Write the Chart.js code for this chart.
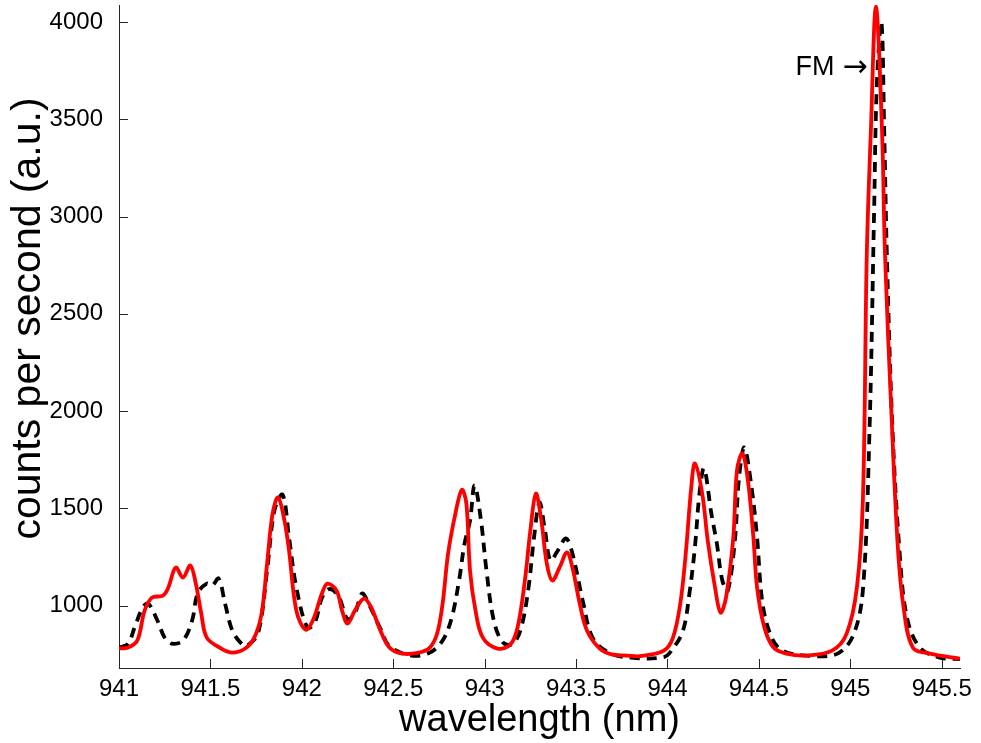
<!DOCTYPE html>
<html>
<head>
<meta charset="utf-8">
<title>Spectrum</title>
<script src="https://cdn.jsdelivr.net/npm/chart.js@4/dist/chart.umd.min.js"></script>
<style>
  html, body { margin: 0; padding: 0; background: #fff; }
  #wrap { width: 981px; height: 743px; position: relative; }
</style>
</head>
<body>
<div id="wrap"><canvas id="spectrumChart"></canvas></div>
<script>
// measured spectrum (red, solid)
const measWl = [941.00, 941.05, 941.10, 941.14, 941.18, 941.24, 941.27, 941.31, 941.35, 941.39,
  941.42, 941.45, 941.48, 941.56, 941.62, 941.69, 941.74, 941.78, 941.81, 941.84,
  941.87, 941.905, 941.93, 941.97, 942.02, 942.06, 942.11, 942.14, 942.19, 942.22,
  942.25, 942.29, 942.34, 942.38, 942.43, 942.48, 942.55, 942.64, 942.70, 942.74,
  942.77, 942.80, 942.84, 942.875, 942.90, 942.92, 942.95, 942.99, 943.07, 943.14,
  943.18, 943.22, 943.25, 943.28, 943.31, 943.34, 943.37, 943.41, 943.45, 943.48,
  943.52, 943.56, 943.63, 943.70, 943.78, 943.85, 943.98, 944.03, 944.07, 944.10,
  944.13, 944.15, 944.19, 944.22, 944.26, 944.29, 944.32, 944.36, 944.38, 944.41,
  944.44, 944.47, 944.49, 944.53, 944.58, 944.65, 944.76, 944.90, 944.98, 945.036,
  945.069, 945.09, 945.113, 945.14, 945.173, 945.19, 945.228, 945.26, 945.29, 945.342,
  945.435, 945.60];
const measCounts = [780, 784, 820, 974, 1041, 1051, 1093, 1196, 1144, 1206,
  1113, 959, 835, 779, 758, 779, 835, 959, 1216, 1473,
  1556, 1437, 1283, 974, 876, 923, 1062, 1113, 1077, 974,
  907, 974, 1036, 990, 871, 784, 753, 758, 784, 856,
  1010, 1268, 1473, 1595, 1525, 1180, 974, 835, 779, 799,
  887, 1129, 1386, 1576, 1437, 1216, 1129, 1196, 1273, 1196,
  1010, 871, 779, 748, 743, 740, 768, 835, 1010, 1268,
  1607, 1731, 1576, 1335, 1093, 964, 1041, 1350, 1695, 1782,
  1643, 1350, 1093, 887, 784, 753, 743, 768, 856, 1093,
  1550, 2800, 3457, 4080, 3457, 2800, 1921, 1300, 1000, 784,
  753, 727];

// calculated spectrum (black, dashed)
const calcWl = [941.00, 941.05, 941.085, 941.13, 941.16, 941.21, 941.25, 941.29, 941.35, 941.40,
  941.43, 941.48, 941.51, 941.545, 941.58, 941.62, 941.67, 941.70, 941.76, 941.81,
  941.85, 941.895, 941.93, 941.97, 942.03, 942.07, 942.11, 942.15, 942.20, 942.25,
  942.29, 942.33, 942.37, 942.43, 942.48, 942.60, 942.70, 942.77, 942.82, 942.86,
  942.89, 942.92, 942.945, 942.98, 943.01, 943.05, 943.10, 943.155, 943.20, 943.24,
  943.27, 943.30, 943.33, 943.36, 943.40, 943.445, 943.48, 943.54, 943.59, 943.68,
  943.80, 943.98, 944.03, 944.085, 944.12, 944.15, 944.175, 944.20, 944.24, 944.27,
  944.30, 944.33, 944.37, 944.39, 944.42, 944.46, 944.49, 944.52, 944.57, 944.63,
  944.76, 944.93, 945.02, 945.07, 945.105, 945.13, 945.145, 945.17, 945.185, 945.20,
  945.23, 945.27, 945.31, 945.38, 945.49, 945.60];
const calcCounts = [784, 804, 887, 990, 1010, 923, 835, 804, 820, 923,
  1062, 1113, 1103, 1139, 1010, 871, 804, 794, 856, 1180,
  1489, 1570, 1350, 1093, 887, 910, 1040, 1085, 1050, 930,
  960, 1062, 1000, 880, 790, 743, 758, 820, 938, 1129,
  1319, 1437, 1618, 1437, 1180, 923, 810, 804, 887, 1093,
  1350, 1530, 1386, 1232, 1283, 1345, 1268, 1010, 835, 758,
  732, 735, 779, 871, 1062, 1299, 1576, 1705, 1473, 1319,
  1129, 1077, 1350, 1643, 1813, 1607, 1350, 1010, 835, 768,
  743, 753, 856, 1093, 1900, 3018, 3676, 4000, 3457, 2800,
  1921, 1268, 938, 784, 732, 725];

const xTicks = [941, 941.5, 942, 942.5, 943, 943.5, 944, 944.5, 945, 945.5];
const yTicks = [1000, 1500, 2000, 2500, 3000, 3500, 4000];

const toPoints = (xs, ys) => xs.map((x, i) => ({ x: x, y: ys[i] }));

// inward tick marks like a MATLAB axes, the y title and the FM label
const axisExtras = {
    id: 'axisExtras',
    afterDraw(chart) {
        const ctx = chart.ctx;
        const area = chart.chartArea;
        const xs = chart.scales.x;
        const ys = chart.scales.y;
        ctx.save();
        ctx.strokeStyle = '#262626';
        ctx.lineWidth = 1;
        ctx.beginPath();
        xTicks.forEach(v => {
            const px = Math.round(xs.getPixelForValue(v)) + 0.5;
            ctx.moveTo(px, area.bottom);
            ctx.lineTo(px, area.bottom - 9);
        });
        yTicks.forEach(v => {
            const py = Math.round(ys.getPixelForValue(v)) + 0.5;
            ctx.moveTo(area.left, py);
            ctx.lineTo(area.left + 9, py);
        });
        ctx.stroke();

        // y axis title
        ctx.fillStyle = '#000';
        ctx.save();
        ctx.translate(29, (area.top + area.bottom) / 2 - 18);
        ctx.rotate(-Math.PI / 2);
        ctx.font = '41px "Liberation Sans", Arial, sans-serif';
        ctx.textAlign = 'center';
        ctx.textBaseline = 'middle';
        ctx.fillText('counts per second (a.u.)', 0, 0);
        ctx.restore();

        const lx = xs.getPixelForValue(945.095);
        const ly = ys.getPixelForValue(3764);
        ctx.textBaseline = 'middle';
        ctx.textAlign = 'right';
        ctx.font = '30px "DejaVu Sans", sans-serif';
        ctx.fillText('\u2192', lx, ly);
        const aw = ctx.measureText('\u2192').width;
        ctx.font = '27px "Liberation Sans", Arial, sans-serif';
        ctx.fillText('FM', lx - aw - 8, ly);
        ctx.restore();
    }
};

const tickFont = { family: '"Liberation Sans", Arial, sans-serif', size: 24 };

new Chart(document.getElementById('spectrumChart').getContext('2d'), {
    type: 'line',
    data: {
        datasets: [
            {
                label: 'measured',
                data: toPoints(measWl, measCounts),
                borderColor: '#ff0000',
                borderWidth: 3.8,
                pointRadius: 0,
                tension: 0.35,
                fill: false,
                order: 0
            },
            {
                label: 'calculated',
                data: toPoints(calcWl, calcCounts),
                borderColor: '#000000',
                borderWidth: 3.8,
                borderDash: [10, 7],
                pointRadius: 0,
                tension: 0.35,
                fill: false,
                order: 1
            }
        ]
    },
    options: {
        responsive: true,
        maintainAspectRatio: false,
        animation: false,
        layout: { padding: { top: 5, right: 21, left: 0, bottom: 0 } },
        plugins: {
            legend: { display: false },
            tooltip: { enabled: false }
        },
        scales: {
            x: {
                type: 'linear',
                min: 941,
                max: 945.6,
                afterBuildTicks: s => { s.ticks = xTicks.map(v => ({ value: v })); },
                afterFit: s => { s.height = 75; s.paddingLeft = 0; s.paddingRight = 0; },
                grid: { display: true, drawOnChartArea: false, drawTicks: false },
                border: { display: true, color: '#262626', width: 1 },
                ticks: {
                    color: '#000',
                    font: tickFont,
                    padding: 7,
                    maxRotation: 0,
                    autoSkip: false,
                    callback: v => String(v)
                },
                title: {
                    display: true,
                    text: 'wavelength (nm)',
                    color: '#000',
                    font: { family: '"Liberation Sans", Arial, sans-serif', size: 38 },
                    padding: { top: -4, bottom: 0 }
                }
            },
            y: {
                type: 'linear',
                min: 679,
                max: 4088,
                afterBuildTicks: s => { s.ticks = yTicks.map(v => ({ value: v })); },
                afterFit: s => { s.width = 119; s.paddingTop = 0; s.paddingBottom = 0; },
                grid: { display: true, drawOnChartArea: false, drawTicks: false },
                border: { display: true, color: '#262626', width: 1 },
                ticks: {
                    color: '#000',
                    font: tickFont,
                    padding: 16,
                    callback: v => String(v)
                },
                title: { display: false }
            }
        }
    },
    plugins: [axisExtras]
});
</script>
</body>
</html>
